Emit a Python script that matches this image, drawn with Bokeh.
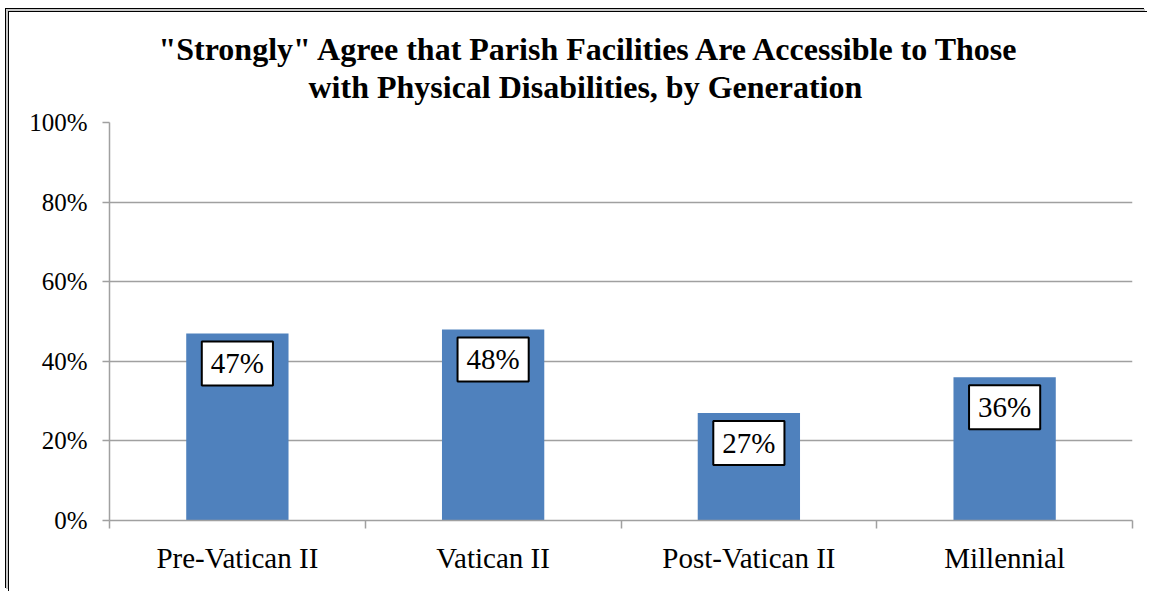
from bokeh.plotting import figure
from bokeh.models import Range1d, FixedTicker, PrintfTickFormatter, Label, ColumnDataSource, Title
from bokeh.embed import file_html
from bokeh.resources import INLINE

# ---- data ----
categories = ["Pre-Vatican II", "Vatican II", "Post-Vatican II", "Millennial"]
values = [47, 48, 27, 36]
y_ticks = [0, 20, 40, 60, 80, 100]
title_lines = ['"Strongly" Agree that Parish Facilities Are Accessible to Those',
               'with Physical Disabilities, by Generation']
title_offsets = [49, 199]

FONT = "Liberation Serif"
BAR = "#4F81BD"
GRID = "#a0a0a0"

n = len(categories)
xs = [i + 0.5 for i in range(n)]

p = figure(width=1139, height=580, output_backend="svg", toolbar_location=None,
           x_range=Range1d(0, n), y_range=Range1d(0, 100),
           min_border_left=100, min_border_right=16, min_border_top=110, min_border_bottom=72)
# double frame line on the top and left edges (does not change the layout)
p.styles = {"margin-left": "9px", "margin-top": "12px",
            "box-shadow": "-1px -1px 0 0 #000, -3px -3px 0 0 #c8c8c8, -4px -4px 0 0 #000"}
p.outline_line_color = None
p.background_fill_color = "white"
p.border_fill_color = "white"

src = ColumnDataSource(dict(x=xs, top=values, cat=categories))
p.vbar(x="x", top="top", width=0.4, source=src, fill_color=BAR, line_color=None)

# grid
p.xgrid.visible = False
p.ygrid.grid_line_color = GRID
p.ygrid.grid_line_width = 1.5

# y axis
p.yaxis.ticker = FixedTicker(ticks=y_ticks)
p.yaxis.formatter = PrintfTickFormatter(format="%d%%")
p.yaxis.axis_line_color = GRID
p.yaxis.axis_line_width = 1.5
p.yaxis.major_tick_line_color = GRID
p.yaxis.major_tick_line_width = 1.5
p.yaxis.major_tick_out = 7
p.yaxis.major_tick_in = 0
p.yaxis.minor_tick_line_color = None
p.yaxis.major_label_text_font = FONT
p.yaxis.major_label_text_font_size = "25px"
p.yaxis.major_label_text_color = "#000000"
p.yaxis.major_label_standoff = 15

# x axis
p.xaxis.ticker = FixedTicker(ticks=xs, minor_ticks=list(range(n + 1)))
p.xaxis.major_label_overrides = {x: c for x, c in zip(xs, categories)}
p.xaxis.axis_line_color = GRID
p.xaxis.axis_line_width = 1.5
p.xaxis.major_tick_line_color = None
p.xaxis.major_tick_out = 0
p.xaxis.major_tick_in = 0
p.xaxis.minor_tick_line_color = GRID
p.xaxis.minor_tick_line_width = 1.5
p.xaxis.minor_tick_out = 8
p.xaxis.minor_tick_in = 0
p.xaxis.major_label_text_font = FONT
p.xaxis.major_label_text_font_size = "29px"
p.xaxis.major_label_text_color = "#000000"
p.xaxis.major_label_standoff = 13

# data labels
for x, v in zip(xs, values):
    p.add_layout(Label(x=x, y=v, y_offset=-30, text=f"{v}%", text_align="center",
                       text_baseline="middle", text_font=FONT, text_font_size="29px",
                       text_color="#000000", background_fill_color="white",
                       border_line_color="#000000", border_line_width=2,
                       padding=dict(left=9, right=9, top=6, bottom=6)))

# title: spacer closest to the frame, then lines bottom-up
p.add_layout(Title(text=" ", text_font_size="14px", standoff=0), "above")
for t, off in reversed(list(zip(title_lines, title_offsets))):
    p.add_layout(Title(text=t, align="left", offset=off, text_font=FONT, text_font_size="32px",
                       text_font_style="bold", text_color="#000000", standoff=0), "above")

open("out.html", "w").write(file_html(p, INLINE))
